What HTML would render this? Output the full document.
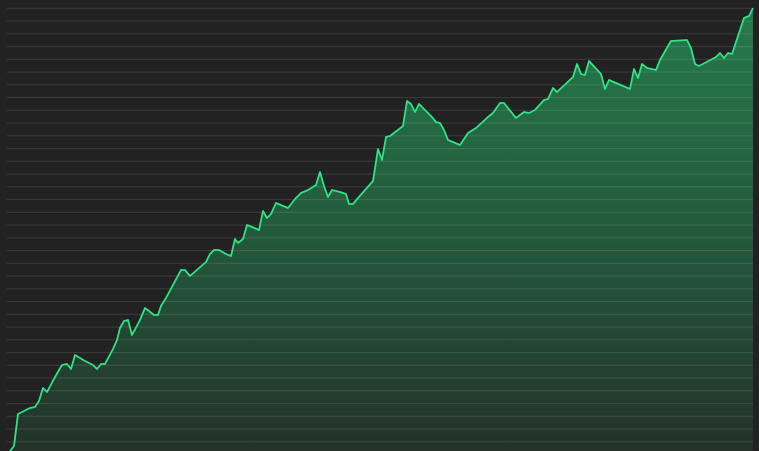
<!DOCTYPE html>
<html><head><meta charset="utf-8"><style>
html,body{margin:0;padding:0;background:#222222;}
svg{display:block;}
</style></head><body>
<svg id="chart" width="759" height="451" viewBox="0 0 759 451">
<defs>
<linearGradient id="fillGrad" x1="0" y1="0" x2="0" y2="1">
<stop offset="0" stop-color="#267a4c"/>
<stop offset="0.5" stop-color="#235a3c"/>
<stop offset="1" stop-color="#24322a"/>
</linearGradient>
</defs>
<rect x="0" y="0" width="759" height="451" fill="#222222"/>
<g id="area-layer"></g>
<g id="grid-layer"></g>
<g id="line-layer"></g>
</svg>
<script>
const days = [0,4,8,20,25,29,33,37,45,52,57,61,65,75,83,87,91,95,103,107,110,114,118,122,130,135,139,144,148,151,156,171,175,180,196,200,204,209,216,221,225,228,233,237,242,249,253,257,261,266,278,285,291,298,306,310,314,318,322,330,336,339,343,348,363,368,372,376,380,393,397,401,405,409,421,426,430,434,438,450,458,466,478,483,490,494,506,514,519,525,534,538,543,547,563,567,571,575,579,591,595,599,620,624,628,632,637,646,650,654,661,677,681,685,689,706,710,714,718,722,734,739,743];
const values = [0,5,37,43,44,50,63,59,74,86,87,82,96,90,86,82,87,87,102,111,123,130,131,116,131,143,140,136,136,145,153,181,181,175,189,197,201,201,197,195,212,208,212,226,224,221,240,233,237,248,243,252,258,261,266,279,265,254,261,259,257,247,247,253,270,302,291,314,315,325,350,347,339,347,335,329,328,321,311,306,318,323,334,338,348,348,333,339,338,341,351,352,363,359,374,387,377,376,390,377,362,371,362,382,373,387,383,381,391,398,410,411,403,387,385,394,398,393,398,397,433,435,443];
const gridTicks = [0,1,2,3,4,5,6,7,8,9,10,11,12,13,14,15,16,17,18,19,20,21,22,23,24,25,26,27,28,29,30,31,32,33,34];

const X0=7, X1=753, Y0=451, Y1=8;
const xDomain=[-3,743], yDomain=[0,443];
function xScale(d){return X0+(d-xDomain[0])/(xDomain[1]-xDomain[0])*(X1-X0);}
function yScale(v){return Y0-(v-yDomain[0])/(yDomain[1]-yDomain[0])*(Y0-Y1);}
const NS='http://www.w3.org/2000/svg';

const grid=document.getElementById('grid-layer');
gridTicks.forEach(function(k){
  const y=8.3+k*12.75;
  const l=document.createElementNS(NS,'line');
  l.setAttribute('x1',X0);l.setAttribute('x2',X1);
  l.setAttribute('y1',y);l.setAttribute('y2',y);
  l.setAttribute('stroke','rgba(255,255,255,0.1)');
  l.setAttribute('stroke-width','1.2');
  
  
  grid.appendChild(l);
});

let pts=days.map(function(d,i){return xScale(d).toFixed(1)+','+yScale(values[i]).toFixed(1);});
const area=document.createElementNS(NS,'path');
area.setAttribute('d','M'+xScale(days[0]).toFixed(1)+','+Y0+' L'+pts.join(' L')+' L'+xScale(days[days.length-1]).toFixed(1)+','+Y0+' Z');
area.setAttribute('fill','url(#fillGrad)');


document.getElementById('area-layer').appendChild(area);

const line=document.createElementNS(NS,'path');
line.setAttribute('d','M'+pts.join(' L'));
line.setAttribute('fill','none');
line.setAttribute('stroke','#2ee383');
line.setAttribute('stroke-width','1.8');
line.setAttribute('stroke-linejoin','round');


document.getElementById('line-layer').appendChild(line);
</script>
</body></html>
